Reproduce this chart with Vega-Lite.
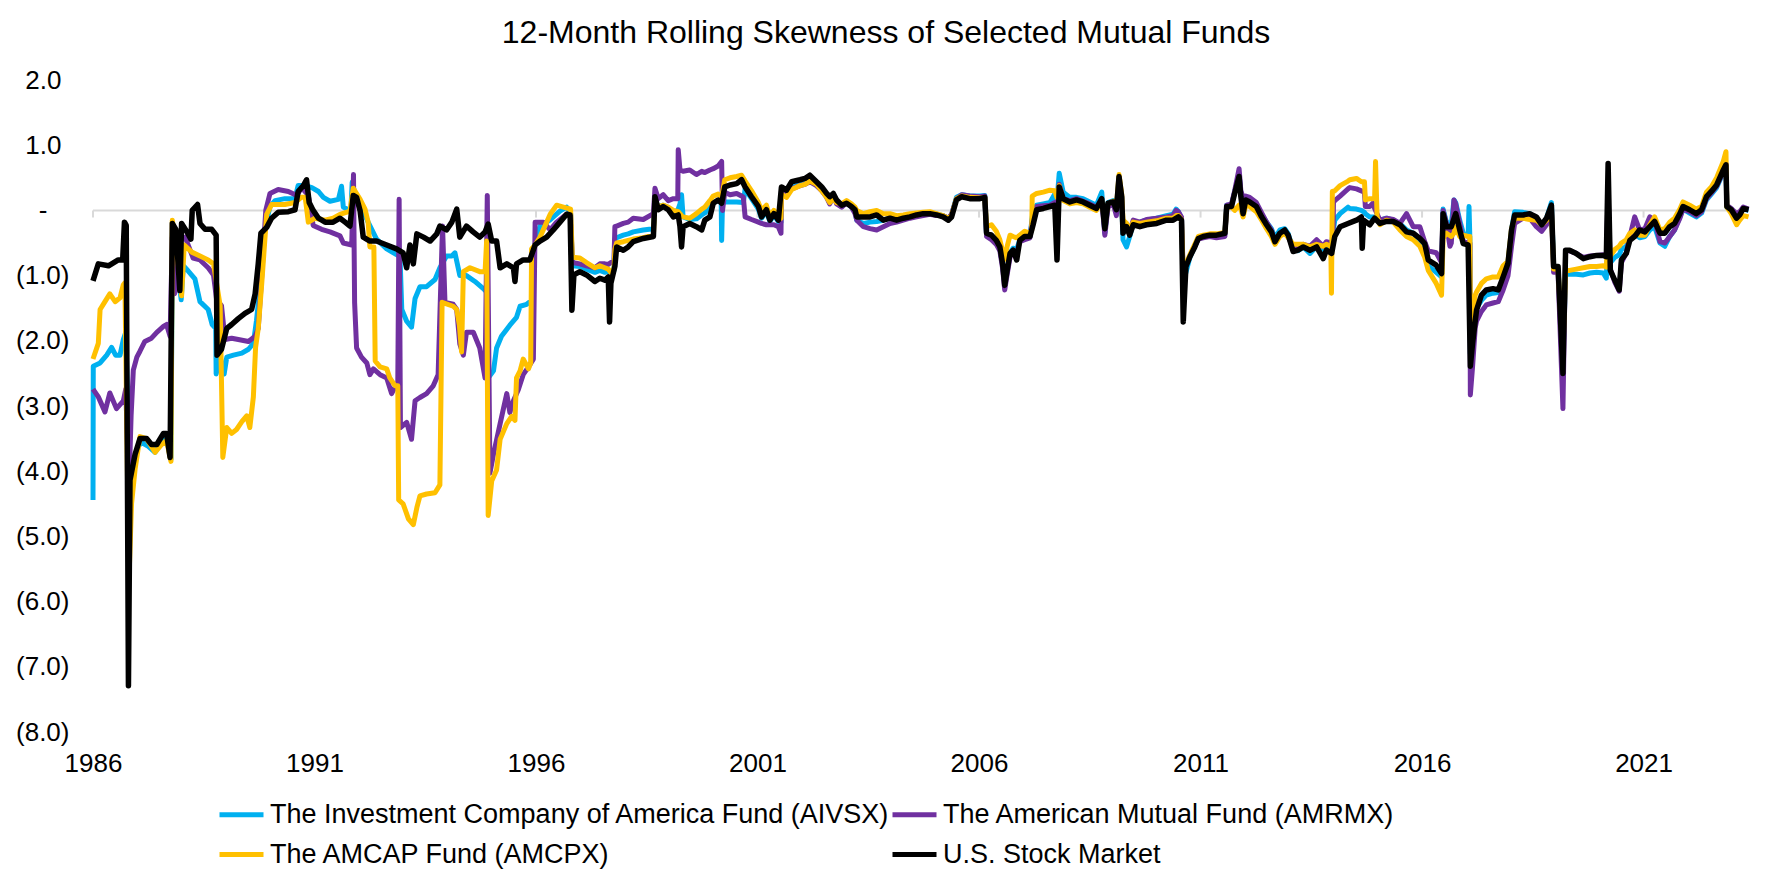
{
"$schema": "https://vega.github.io/schema/vega-lite/v6.json",
"width": 1656, "height": 652,
"autosize": {"type": "none"},
"padding": {"left": 93, "top": 80, "right": 23, "bottom": 153},
"background": "white",
"config": {"font": "Liberation Sans", "view": {"stroke": null}},
"title": {"text": "12-Month Rolling Skewness of Selected Mutual Funds", "font": "Liberation Sans", "fontSize": 32, "fontWeight": "normal", "color": "#000000", "anchor": "middle", "dx": -35, "dy": 3, "offset": 20},
"data": {"values": [
{"f":"A","t":1986,"v":-4.44},{"f":"A","t":1986.006,"v":-2.39},{"f":"A","t":1986.16,"v":-2.34},{"f":"A","t":1986.31,"v":-2.22},{"f":"A","t":1986.42,"v":-2.1},{"f":"A","t":1986.51,"v":-2.22},{"f":"A","t":1986.61,"v":-2.22},{"f":"A","t":1986.685,"v":-1.98},{"f":"A","t":1986.74,"v":-1.87},{"f":"A","t":1986.84,"v":-4.45},{"f":"A","t":1986.87,"v":-4.38},{"f":"A","t":1986.95,"v":-3.85},{"f":"A","t":1987.02,"v":-3.62},{"f":"A","t":1987.1,"v":-3.56},{"f":"A","t":1987.25,"v":-3.62},{"f":"A","t":1987.4,"v":-3.71},{"f":"A","t":1987.55,"v":-3.56},{"f":"A","t":1987.66,"v":-3.5},{"f":"A","t":1987.76,"v":-3.82},{"f":"A","t":1987.79,"v":-0.61},{"f":"A","t":1987.87,"v":-0.61},{"f":"A","t":1987.99,"v":-1.37},{"f":"A","t":1988.04,"v":-0.85},{"f":"A","t":1988.15,"v":-0.93},{"f":"A","t":1988.3,"v":-1.05},{"f":"A","t":1988.415,"v":-1.4},{"f":"A","t":1988.6,"v":-1.52},{"f":"A","t":1988.69,"v":-1.75},{"f":"A","t":1988.77,"v":-1.81},{"f":"A","t":1988.78,"v":-2.51},{"f":"A","t":1988.87,"v":-2.25},{"f":"A","t":1988.96,"v":-2.51},{"f":"A","t":1989.02,"v":-2.25},{"f":"A","t":1989.17,"v":-2.22},{"f":"A","t":1989.36,"v":-2.19},{"f":"A","t":1989.51,"v":-2.13},{"f":"A","t":1989.62,"v":-2.04},{"f":"A","t":1989.69,"v":-1.69},{"f":"A","t":1989.79,"v":-1.05},{"f":"A","t":1989.88,"v":-0.29},{"f":"A","t":1989.995,"v":0.06},{"f":"A","t":1990.11,"v":0.15},{"f":"A","t":1990.33,"v":0.18},{"f":"A","t":1990.56,"v":0.18},{"f":"A","t":1990.63,"v":0.38},{"f":"A","t":1990.79,"v":0.38},{"f":"A","t":1990.94,"v":0.35},{"f":"A","t":1991.09,"v":0.29},{"f":"A","t":1991.2,"v":0.2},{"f":"A","t":1991.35,"v":0.14},{"f":"A","t":1991.54,"v":0.17},{"f":"A","t":1991.61,"v":0.37},{"f":"A","t":1991.65,"v":0.05},{"f":"A","t":1991.82,"v":-0.01},{"f":"A","t":1991.85,"v":0.43},{"f":"A","t":1991.91,"v":0.26},{"f":"A","t":1992.06,"v":0.05},{"f":"A","t":1992.21,"v":-0.18},{"f":"A","t":1992.4,"v":-0.44},{"f":"A","t":1992.63,"v":-0.59},{"f":"A","t":1992.93,"v":-0.71},{"f":"A","t":1992.97,"v":-1.52},{"f":"A","t":1993.08,"v":-1.7},{"f":"A","t":1993.19,"v":-1.79},{"f":"A","t":1993.27,"v":-1.35},{"f":"A","t":1993.38,"v":-1.17},{"f":"A","t":1993.53,"v":-1.17},{"f":"A","t":1993.72,"v":-1.06},{"f":"A","t":1993.83,"v":-0.88},{"f":"A","t":1993.98,"v":-0.7},{"f":"A","t":1994.1,"v":-0.7},{"f":"A","t":1994.17,"v":-0.65},{"f":"A","t":1994.28,"v":-1.0},{"f":"A","t":1994.43,"v":-1.0},{"f":"A","t":1994.62,"v":-1.09},{"f":"A","t":1994.81,"v":-1.2},{"f":"A","t":1994.88,"v":-1.25},{"f":"A","t":1994.92,"v":-2.57},{"f":"A","t":1995.04,"v":-2.46},{"f":"A","t":1995.11,"v":-2.11},{"f":"A","t":1995.22,"v":-1.93},{"f":"A","t":1995.41,"v":-1.76},{"f":"A","t":1995.56,"v":-1.64},{"f":"A","t":1995.64,"v":-1.47},{"f":"A","t":1995.79,"v":-1.44},{"f":"A","t":1995.9,"v":-1.38},{"f":"A","t":1995.95,"v":-0.59},{"f":"A","t":1996.09,"v":-0.24},{"f":"A","t":1996.31,"v":-0.15},{"f":"A","t":1996.54,"v":-0.01},{"f":"A","t":1996.69,"v":0.05},{"f":"A","t":1996.78,"v":-0.04},{"f":"A","t":1996.82,"v":-0.85},{"f":"A","t":1996.99,"v":-0.86},{"f":"A","t":1997.14,"v":-0.9},{"f":"A","t":1997.33,"v":-0.95},{"f":"A","t":1997.44,"v":-0.92},{"f":"A","t":1997.555,"v":-0.95},{"f":"A","t":1997.63,"v":-0.93},{"f":"A","t":1997.69,"v":-0.95},{"f":"A","t":1997.76,"v":-0.92},{"f":"A","t":1997.78,"v":-0.45},{"f":"A","t":1997.82,"v":-0.42},{"f":"A","t":1997.97,"v":-0.38},{"f":"A","t":1998.08,"v":-0.36},{"f":"A","t":1998.195,"v":-0.33},{"f":"A","t":1998.42,"v":-0.3},{"f":"A","t":1998.65,"v":-0.28},{"f":"A","t":1998.685,"v":0.12},{"f":"A","t":1998.76,"v":0.06},{"f":"A","t":1998.87,"v":0.08},{"f":"A","t":1998.985,"v":0.04},{"f":"A","t":1999.1,"v":-0.02},{"f":"A","t":1999.2,"v":0},{"f":"A","t":1999.25,"v":0.1},{"f":"A","t":1999.285,"v":0.24},{"f":"A","t":1999.32,"v":-0.1},{"f":"A","t":1999.47,"v":-0.14},{"f":"A","t":1999.62,"v":-0.13},{"f":"A","t":1999.74,"v":-0.07},{"f":"A","t":1999.81,"v":-0.04},{"f":"A","t":1999.925,"v":0.05},{"f":"A","t":2000,"v":0.12},{"f":"A","t":2000.11,"v":0.15},{"f":"A","t":2000.18,"v":0.12},{"f":"A","t":2000.19,"v":-0.46},{"f":"A","t":2000.21,"v":0.13},{"f":"A","t":2000.38,"v":0.13},{"f":"A","t":2000.53,"v":0.13},{"f":"A","t":2000.68,"v":0.12},{"f":"A","t":2000.72,"v":0.33},{"f":"A","t":2000.865,"v":0.18},{"f":"A","t":2001.02,"v":0.02},{"f":"A","t":2001.09,"v":-0.12},{"f":"A","t":2001.2,"v":-0.02},{"f":"A","t":2001.28,"v":-0.17},{"f":"A","t":2001.37,"v":-0.07},{"f":"A","t":2001.47,"v":-0.17},{"f":"A","t":2001.53,"v":-0.18},{"f":"A","t":2001.54,"v":0.28},{"f":"A","t":2001.655,"v":0.25},{"f":"A","t":2001.77,"v":0.35},{"f":"A","t":2001.96,"v":0.4},{"f":"A","t":2002.07,"v":0.42},{"f":"A","t":2002.18,"v":0.46},{"f":"A","t":2002.33,"v":0.4},{"f":"A","t":2002.45,"v":0.32},{"f":"A","t":2002.56,"v":0.22},{"f":"A","t":2002.63,"v":0.12},{"f":"A","t":2002.71,"v":0.2},{"f":"A","t":2002.785,"v":0.12},{"f":"A","t":2002.9,"v":0.06},{"f":"A","t":2003.01,"v":0.12},{"f":"A","t":2003.12,"v":0.05},{"f":"A","t":2003.2,"v":-0.02},{"f":"A","t":2003.24,"v":-0.15},{"f":"A","t":2003.39,"v":-0.2},{"f":"A","t":2003.54,"v":-0.18},{"f":"A","t":2003.69,"v":-0.17},{"f":"A","t":2003.84,"v":-0.15},{"f":"A","t":2003.99,"v":-0.12},{"f":"A","t":2004.14,"v":-0.12},{"f":"A","t":2004.29,"v":-0.1},{"f":"A","t":2004.44,"v":-0.08},{"f":"A","t":2004.59,"v":-0.06},{"f":"A","t":2004.74,"v":-0.05},{"f":"A","t":2004.89,"v":-0.04},{"f":"A","t":2005.04,"v":-0.06},{"f":"A","t":2005.19,"v":-0.08},{"f":"A","t":2005.305,"v":-0.12},{"f":"A","t":2005.38,"v":-0.07},{"f":"A","t":2005.49,"v":0.2},{"f":"A","t":2005.61,"v":0.24},{"f":"A","t":2005.79,"v":0.22},{"f":"A","t":2006.02,"v":0.22},{"f":"A","t":2006.13,"v":0.23},{"f":"A","t":2006.17,"v":-0.38},{"f":"A","t":2006.28,"v":-0.4},{"f":"A","t":2006.39,"v":-0.48},{"f":"A","t":2006.47,"v":-0.58},{"f":"A","t":2006.53,"v":-0.82},{"f":"A","t":2006.58,"v":-1.12},{"f":"A","t":2006.635,"v":-0.9},{"f":"A","t":2006.7,"v":-0.65},{"f":"A","t":2006.77,"v":-0.58},{"f":"A","t":2006.85,"v":-0.6},{"f":"A","t":2006.92,"v":-0.45},{"f":"A","t":2007.03,"v":-0.42},{"f":"A","t":2007.15,"v":-0.4},{"f":"A","t":2007.22,"v":0},{"f":"A","t":2007.3,"v":0.08},{"f":"A","t":2007.45,"v":0.1},{"f":"A","t":2007.6,"v":0.12},{"f":"A","t":2007.71,"v":0.25},{"f":"A","t":2007.76,"v":0.15},{"f":"A","t":2007.81,"v":0.57},{"f":"A","t":2007.9,"v":0.28},{"f":"A","t":2008.05,"v":0.2},{"f":"A","t":2008.2,"v":0.2},{"f":"A","t":2008.35,"v":0.18},{"f":"A","t":2008.5,"v":0.13},{"f":"A","t":2008.65,"v":0.08},{"f":"A","t":2008.77,"v":0.28},{"f":"A","t":2008.84,"v":-0.35},{"f":"A","t":2008.91,"v":0.12},{"f":"A","t":2009.03,"v":0.15},{"f":"A","t":2009.1,"v":0.02},{"f":"A","t":2009.16,"v":0.5},{"f":"A","t":2009.22,"v":0.2},{"f":"A","t":2009.25,"v":-0.45},{"f":"A","t":2009.33,"v":-0.56},{"f":"A","t":2009.4,"v":-0.4},{"f":"A","t":2009.48,"v":-0.2},{"f":"A","t":2009.63,"v":-0.18},{"f":"A","t":2009.78,"v":-0.15},{"f":"A","t":2010.01,"v":-0.12},{"f":"A","t":2010.23,"v":-0.08},{"f":"A","t":2010.38,"v":-0.06},{"f":"A","t":2010.45,"v":0.02},{"f":"A","t":2010.5,"v":-0.02},{"f":"A","t":2010.57,"v":-0.12},{"f":"A","t":2010.61,"v":-1.1},{"f":"A","t":2010.67,"v":-0.95},{"f":"A","t":2010.76,"v":-0.72},{"f":"A","t":2010.87,"v":-0.55},{"f":"A","t":2010.95,"v":-0.42},{"f":"A","t":2011.06,"v":-0.4},{"f":"A","t":2011.21,"v":-0.38},{"f":"A","t":2011.36,"v":-0.38},{"f":"A","t":2011.55,"v":-0.36},{"f":"A","t":2011.59,"v":0.08},{"f":"A","t":2011.7,"v":0.08},{"f":"A","t":2011.77,"v":0.28},{"f":"A","t":2011.87,"v":0.55},{"f":"A","t":2011.91,"v":0.25},{"f":"A","t":2011.96,"v":0.15},{"f":"A","t":2012.02,"v":0.2},{"f":"A","t":2012.11,"v":0.18},{"f":"A","t":2012.26,"v":0.1},{"f":"A","t":2012.38,"v":-0.06},{"f":"A","t":2012.49,"v":-0.18},{"f":"A","t":2012.6,"v":-0.28},{"f":"A","t":2012.68,"v":-0.42},{"f":"A","t":2012.79,"v":-0.3},{"f":"A","t":2012.9,"v":-0.28},{"f":"A","t":2012.98,"v":-0.36},{"f":"A","t":2013.09,"v":-0.6},{"f":"A","t":2013.2,"v":-0.62},{"f":"A","t":2013.32,"v":-0.56},{"f":"A","t":2013.47,"v":-0.66},{"f":"A","t":2013.62,"v":-0.55},{"f":"A","t":2013.77,"v":-0.6},{"f":"A","t":2013.84,"v":-0.58},{"f":"A","t":2013.94,"v":-0.6},{"f":"A","t":2014.03,"v":-0.15},{"f":"A","t":2014.15,"v":-0.05},{"f":"A","t":2014.33,"v":0.05},{"f":"A","t":2014.37,"v":0.03},{"f":"A","t":2014.52,"v":0.02},{"f":"A","t":2014.63,"v":0},{"f":"A","t":2014.7,"v":-0.03},{"f":"A","t":2014.72,"v":-0.05},{"f":"A","t":2014.82,"v":-0.1},{"f":"A","t":2014.93,"v":-0.1},{"f":"A","t":2015.05,"v":-0.15},{"f":"A","t":2015.2,"v":-0.12},{"f":"A","t":2015.35,"v":-0.15},{"f":"A","t":2015.5,"v":-0.2},{"f":"A","t":2015.65,"v":-0.3},{"f":"A","t":2015.8,"v":-0.35},{"f":"A","t":2015.95,"v":-0.45},{"f":"A","t":2016.06,"v":-0.6},{"f":"A","t":2016.14,"v":-0.85},{"f":"A","t":2016.32,"v":-0.95},{"f":"A","t":2016.44,"v":-1.02},{"f":"A","t":2016.475,"v":0.02},{"f":"A","t":2016.55,"v":-0.18},{"f":"A","t":2016.63,"v":-0.2},{"f":"A","t":2016.66,"v":-0.22},{"f":"A","t":2016.72,"v":0.16},{"f":"A","t":2016.76,"v":0.12},{"f":"A","t":2016.85,"v":-0.15},{"f":"A","t":2016.93,"v":-0.35},{"f":"A","t":2017.04,"v":-0.4},{"f":"A","t":2017.06,"v":0.06},{"f":"A","t":2017.08,"v":-0.45},{"f":"A","t":2017.09,"v":-2.2},{"f":"A","t":2017.14,"v":-2.0},{"f":"A","t":2017.2,"v":-1.55},{"f":"A","t":2017.23,"v":-1.5},{"f":"A","t":2017.34,"v":-1.38},{"f":"A","t":2017.45,"v":-1.3},{"f":"A","t":2017.6,"v":-1.27},{"f":"A","t":2017.72,"v":-1.26},{"f":"A","t":2017.83,"v":-1.05},{"f":"A","t":2017.94,"v":-0.82},{"f":"A","t":2018.02,"v":-0.3},{"f":"A","t":2018.09,"v":-0.02},{"f":"A","t":2018.28,"v":-0.03},{"f":"A","t":2018.43,"v":-0.05},{"f":"A","t":2018.58,"v":-0.12},{"f":"A","t":2018.7,"v":-0.25},{"f":"A","t":2018.81,"v":-0.12},{"f":"A","t":2018.92,"v":0.12},{"f":"A","t":2018.97,"v":-0.85},{"f":"A","t":2019.07,"v":-0.9},{"f":"A","t":2019.18,"v":-2.3},{"f":"A","t":2019.24,"v":-0.97},{"f":"A","t":2019.33,"v":-0.98},{"f":"A","t":2019.48,"v":-0.98},{"f":"A","t":2019.64,"v":-0.99},{"f":"A","t":2019.79,"v":-0.96},{"f":"A","t":2019.94,"v":-0.95},{"f":"A","t":2020.09,"v":-0.96},{"f":"A","t":2020.16,"v":-1.04},{"f":"A","t":2020.2,"v":-0.4},{"f":"A","t":2020.25,"v":-0.8},{"f":"A","t":2020.35,"v":-0.72},{"f":"A","t":2020.45,"v":-0.68},{"f":"A","t":2020.5,"v":-0.6},{"f":"A","t":2020.61,"v":-0.55},{"f":"A","t":2020.69,"v":-0.4},{"f":"A","t":2020.8,"v":-0.35},{"f":"A","t":2020.91,"v":-0.42},{"f":"A","t":2021.03,"v":-0.4},{"f":"A","t":2021.14,"v":-0.3},{"f":"A","t":2021.25,"v":-0.25},{"f":"A","t":2021.37,"v":-0.5},{"f":"A","t":2021.48,"v":-0.55},{"f":"A","t":2021.59,"v":-0.4},{"f":"A","t":2021.7,"v":-0.3},{"f":"A","t":2021.82,"v":-0.1},{"f":"A","t":2021.89,"v":0.02},{"f":"A","t":2022.04,"v":-0.04},{"f":"A","t":2022.19,"v":-0.1},{"f":"A","t":2022.31,"v":-0.04},{"f":"A","t":2022.42,"v":0.16},{"f":"A","t":2022.53,"v":0.25},{"f":"A","t":2022.65,"v":0.35},{"f":"A","t":2022.8,"v":0.58},{"f":"A","t":2022.86,"v":0.68},{"f":"A","t":2022.88,"v":0.05},{"f":"A","t":2022.98,"v":0.02},{"f":"A","t":2023.1,"v":-0.1},{"f":"A","t":2023.17,"v":-0.05},{"f":"A","t":2023.25,"v":0.02},{"f":"A","t":2023.37,"v":0},
{"f":"R","t":1986,"v":-2.74},{"f":"R","t":1986.12,"v":-2.86},{"f":"R","t":1986.27,"v":-3.09},{"f":"R","t":1986.38,"v":-2.8},{"f":"R","t":1986.53,"v":-3.04},{"f":"R","t":1986.685,"v":-2.92},{"f":"R","t":1986.74,"v":-2.74},{"f":"R","t":1986.81,"v":-4.3},{"f":"R","t":1986.86,"v":-3.15},{"f":"R","t":1986.91,"v":-2.45},{"f":"R","t":1986.99,"v":-2.25},{"f":"R","t":1987.06,"v":-2.16},{"f":"R","t":1987.17,"v":-2.01},{"f":"R","t":1987.32,"v":-1.96},{"f":"R","t":1987.44,"v":-1.87},{"f":"R","t":1987.59,"v":-1.78},{"f":"R","t":1987.66,"v":-1.75},{"f":"R","t":1987.74,"v":-1.93},{"f":"R","t":1987.79,"v":-0.41},{"f":"R","t":1987.84,"v":-1.28},{"f":"R","t":1987.89,"v":-1.17},{"f":"R","t":1987.96,"v":-0.47},{"f":"R","t":1988.08,"v":-0.41},{"f":"R","t":1988.26,"v":-0.73},{"f":"R","t":1988.415,"v":-0.76},{"f":"R","t":1988.6,"v":-0.88},{"f":"R","t":1988.72,"v":-0.99},{"f":"R","t":1988.79,"v":-1.37},{"f":"R","t":1988.9,"v":-1.46},{"f":"R","t":1988.98,"v":-1.98},{"f":"R","t":1989.13,"v":-1.96},{"f":"R","t":1989.28,"v":-1.98},{"f":"R","t":1989.51,"v":-2.01},{"f":"R","t":1989.66,"v":-1.93},{"f":"R","t":1989.73,"v":-1.81},{"f":"R","t":1989.81,"v":-0.99},{"f":"R","t":1989.9,"v":0},{"f":"R","t":1989.995,"v":0.26},{"f":"R","t":1990.18,"v":0.32},{"f":"R","t":1990.41,"v":0.29},{"f":"R","t":1990.6,"v":0.23},{"f":"R","t":1990.71,"v":0.35},{"f":"R","t":1990.86,"v":0.23},{"f":"R","t":1990.97,"v":-0.23},{"f":"R","t":1991.16,"v":-0.29},{"f":"R","t":1991.35,"v":-0.33},{"f":"R","t":1991.575,"v":-0.39},{"f":"R","t":1991.65,"v":-0.5},{"f":"R","t":1991.84,"v":-0.53},{"f":"R","t":1991.88,"v":0.55},{"f":"R","t":1991.905,"v":-1.41},{"f":"R","t":1991.95,"v":-2.11},{"f":"R","t":1992.06,"v":-2.25},{"f":"R","t":1992.18,"v":-2.34},{"f":"R","t":1992.25,"v":-2.52},{"f":"R","t":1992.33,"v":-2.43},{"f":"R","t":1992.48,"v":-2.52},{"f":"R","t":1992.63,"v":-2.57},{"f":"R","t":1992.74,"v":-2.81},{"f":"R","t":1992.88,"v":-2.63},{"f":"R","t":1992.91,"v":0.17},{"f":"R","t":1992.94,"v":-3.33},{"f":"R","t":1993.08,"v":-3.25},{"f":"R","t":1993.19,"v":-3.51},{"f":"R","t":1993.27,"v":-2.92},{"f":"R","t":1993.38,"v":-2.87},{"f":"R","t":1993.53,"v":-2.81},{"f":"R","t":1993.68,"v":-2.69},{"f":"R","t":1993.79,"v":-2.52},{"f":"R","t":1993.89,"v":-0.24},{"f":"R","t":1993.945,"v":-1.41},{"f":"R","t":1994.13,"v":-1.44},{"f":"R","t":1994.21,"v":-1.52},{"f":"R","t":1994.28,"v":-2.05},{"f":"R","t":1994.36,"v":-2.22},{"f":"R","t":1994.43,"v":-1.87},{"f":"R","t":1994.585,"v":-1.87},{"f":"R","t":1994.73,"v":-2.11},{"f":"R","t":1994.85,"v":-2.57},{"f":"R","t":1994.9,"v":0.23},{"f":"R","t":1994.96,"v":-4.03},{"f":"R","t":1995.04,"v":-3.74},{"f":"R","t":1995.19,"v":-3.27},{"f":"R","t":1995.34,"v":-2.81},{"f":"R","t":1995.41,"v":-3.1},{"f":"R","t":1995.49,"v":-2.92},{"f":"R","t":1995.6,"v":-2.75},{"f":"R","t":1995.71,"v":-2.52},{"f":"R","t":1995.83,"v":-2.4},{"f":"R","t":1995.94,"v":-2.28},{"f":"R","t":1995.98,"v":-0.18},{"f":"R","t":1996.165,"v":-0.18},{"f":"R","t":1996.32,"v":-0.3},{"f":"R","t":1996.465,"v":-0.18},{"f":"R","t":1996.69,"v":-0.06},{"f":"R","t":1996.78,"v":-0.06},{"f":"R","t":1996.82,"v":-0.8},{"f":"R","t":1996.99,"v":-0.82},{"f":"R","t":1997.14,"v":-0.85},{"f":"R","t":1997.33,"v":-0.88},{"f":"R","t":1997.44,"v":-0.82},{"f":"R","t":1997.555,"v":-0.82},{"f":"R","t":1997.63,"v":-0.83},{"f":"R","t":1997.69,"v":-0.8},{"f":"R","t":1997.76,"v":-0.78},{"f":"R","t":1997.78,"v":-0.25},{"f":"R","t":1997.82,"v":-0.24},{"f":"R","t":1997.97,"v":-0.2},{"f":"R","t":1998.08,"v":-0.18},{"f":"R","t":1998.195,"v":-0.12},{"f":"R","t":1998.42,"v":-0.14},{"f":"R","t":1998.65,"v":-0.05},{"f":"R","t":1998.685,"v":0.34},{"f":"R","t":1998.76,"v":0.18},{"f":"R","t":1998.87,"v":0.24},{"f":"R","t":1998.985,"v":0.15},{"f":"R","t":1999.1,"v":0.18},{"f":"R","t":1999.2,"v":0.18},{"f":"R","t":1999.21,"v":0.93},{"f":"R","t":1999.25,"v":0.62},{"f":"R","t":1999.32,"v":0.6},{"f":"R","t":1999.47,"v":0.62},{"f":"R","t":1999.62,"v":0.55},{"f":"R","t":1999.74,"v":0.6},{"f":"R","t":1999.81,"v":0.58},{"f":"R","t":1999.925,"v":0.62},{"f":"R","t":2000,"v":0.64},{"f":"R","t":2000.11,"v":0.68},{"f":"R","t":2000.19,"v":0.75},{"f":"R","t":2000.21,"v":0},{"f":"R","t":2000.26,"v":0.28},{"f":"R","t":2000.38,"v":0.24},{"f":"R","t":2000.53,"v":0.26},{"f":"R","t":2000.64,"v":0.22},{"f":"R","t":2000.68,"v":0.2},{"f":"R","t":2000.72,"v":-0.1},{"f":"R","t":2000.865,"v":-0.14},{"f":"R","t":2001.02,"v":-0.18},{"f":"R","t":2001.09,"v":-0.2},{"f":"R","t":2001.2,"v":-0.22},{"f":"R","t":2001.28,"v":-0.22},{"f":"R","t":2001.37,"v":-0.22},{"f":"R","t":2001.47,"v":-0.25},{"f":"R","t":2001.53,"v":-0.35},{"f":"R","t":2001.54,"v":0.3},{"f":"R","t":2001.655,"v":0.25},{"f":"R","t":2001.77,"v":0.33},{"f":"R","t":2001.96,"v":0.38},{"f":"R","t":2002.07,"v":0.4},{"f":"R","t":2002.18,"v":0.44},{"f":"R","t":2002.33,"v":0.38},{"f":"R","t":2002.45,"v":0.3},{"f":"R","t":2002.56,"v":0.2},{"f":"R","t":2002.63,"v":0.1},{"f":"R","t":2002.71,"v":0.24},{"f":"R","t":2002.785,"v":0.1},{"f":"R","t":2002.9,"v":0.05},{"f":"R","t":2003.01,"v":0.12},{"f":"R","t":2003.12,"v":0.05},{"f":"R","t":2003.2,"v":-0.05},{"f":"R","t":2003.24,"v":-0.15},{"f":"R","t":2003.39,"v":-0.25},{"f":"R","t":2003.54,"v":-0.28},{"f":"R","t":2003.69,"v":-0.3},{"f":"R","t":2003.84,"v":-0.25},{"f":"R","t":2003.99,"v":-0.2},{"f":"R","t":2004.14,"v":-0.18},{"f":"R","t":2004.29,"v":-0.15},{"f":"R","t":2004.44,"v":-0.12},{"f":"R","t":2004.59,"v":-0.1},{"f":"R","t":2004.74,"v":-0.08},{"f":"R","t":2004.89,"v":-0.06},{"f":"R","t":2005.04,"v":-0.08},{"f":"R","t":2005.19,"v":-0.08},{"f":"R","t":2005.305,"v":-0.12},{"f":"R","t":2005.38,"v":-0.06},{"f":"R","t":2005.49,"v":0.18},{"f":"R","t":2005.61,"v":0.24},{"f":"R","t":2005.79,"v":0.22},{"f":"R","t":2006.02,"v":0.21},{"f":"R","t":2006.13,"v":0.22},{"f":"R","t":2006.17,"v":-0.4},{"f":"R","t":2006.28,"v":-0.45},{"f":"R","t":2006.39,"v":-0.52},{"f":"R","t":2006.47,"v":-0.62},{"f":"R","t":2006.53,"v":-0.88},{"f":"R","t":2006.58,"v":-1.22},{"f":"R","t":2006.635,"v":-0.98},{"f":"R","t":2006.7,"v":-0.72},{"f":"R","t":2006.77,"v":-0.62},{"f":"R","t":2006.85,"v":-0.65},{"f":"R","t":2006.92,"v":-0.48},{"f":"R","t":2007.03,"v":-0.45},{"f":"R","t":2007.15,"v":-0.42},{"f":"R","t":2007.22,"v":-0.05},{"f":"R","t":2007.3,"v":0.06},{"f":"R","t":2007.45,"v":0.07},{"f":"R","t":2007.6,"v":0.08},{"f":"R","t":2007.71,"v":0.12},{"f":"R","t":2007.76,"v":0.05},{"f":"R","t":2007.81,"v":0.4},{"f":"R","t":2007.9,"v":0.18},{"f":"R","t":2008.05,"v":0.15},{"f":"R","t":2008.2,"v":0.18},{"f":"R","t":2008.35,"v":0.14},{"f":"R","t":2008.5,"v":0.1},{"f":"R","t":2008.65,"v":0.05},{"f":"R","t":2008.77,"v":0.16},{"f":"R","t":2008.84,"v":-0.38},{"f":"R","t":2008.91,"v":0.05},{"f":"R","t":2009.03,"v":0.1},{"f":"R","t":2009.1,"v":-0.08},{"f":"R","t":2009.16,"v":0.48},{"f":"R","t":2009.22,"v":0.2},{"f":"R","t":2009.25,"v":-0.3},{"f":"R","t":2009.33,"v":-0.22},{"f":"R","t":2009.4,"v":-0.32},{"f":"R","t":2009.48,"v":-0.15},{"f":"R","t":2009.63,"v":-0.18},{"f":"R","t":2009.78,"v":-0.14},{"f":"R","t":2010.01,"v":-0.12},{"f":"R","t":2010.23,"v":-0.1},{"f":"R","t":2010.38,"v":-0.08},{"f":"R","t":2010.45,"v":0},{"f":"R","t":2010.5,"v":-0.02},{"f":"R","t":2010.57,"v":-0.1},{"f":"R","t":2010.61,"v":-1.0},{"f":"R","t":2010.67,"v":-0.85},{"f":"R","t":2010.76,"v":-0.7},{"f":"R","t":2010.87,"v":-0.55},{"f":"R","t":2010.95,"v":-0.44},{"f":"R","t":2011.06,"v":-0.42},{"f":"R","t":2011.21,"v":-0.4},{"f":"R","t":2011.36,"v":-0.42},{"f":"R","t":2011.55,"v":-0.4},{"f":"R","t":2011.59,"v":0.08},{"f":"R","t":2011.7,"v":0.1},{"f":"R","t":2011.77,"v":0.3},{"f":"R","t":2011.87,"v":0.64},{"f":"R","t":2011.91,"v":0.3},{"f":"R","t":2011.96,"v":0.2},{"f":"R","t":2012.02,"v":0.22},{"f":"R","t":2012.11,"v":0.2},{"f":"R","t":2012.26,"v":0.12},{"f":"R","t":2012.38,"v":-0.04},{"f":"R","t":2012.49,"v":-0.18},{"f":"R","t":2012.6,"v":-0.3},{"f":"R","t":2012.68,"v":-0.48},{"f":"R","t":2012.79,"v":-0.38},{"f":"R","t":2012.9,"v":-0.32},{"f":"R","t":2012.98,"v":-0.4},{"f":"R","t":2013.09,"v":-0.58},{"f":"R","t":2013.2,"v":-0.55},{"f":"R","t":2013.32,"v":-0.52},{"f":"R","t":2013.47,"v":-0.55},{"f":"R","t":2013.62,"v":-0.45},{"f":"R","t":2013.77,"v":-0.55},{"f":"R","t":2013.84,"v":-0.48},{"f":"R","t":2013.94,"v":-0.5},{"f":"R","t":2013.99,"v":-0.5},{"f":"R","t":2014.0,"v":0.12},{"f":"R","t":2014.03,"v":0.15},{"f":"R","t":2014.15,"v":0.22},{"f":"R","t":2014.33,"v":0.33},{"f":"R","t":2014.37,"v":0.35},{"f":"R","t":2014.52,"v":0.33},{"f":"R","t":2014.63,"v":0.3},{"f":"R","t":2014.7,"v":0.28},{"f":"R","t":2014.72,"v":0.06},{"f":"R","t":2014.82,"v":0.06},{"f":"R","t":2014.89,"v":0.11},{"f":"R","t":2014.93,"v":0.03},{"f":"R","t":2015.05,"v":-0.15},{"f":"R","t":2015.2,"v":-0.12},{"f":"R","t":2015.35,"v":-0.14},{"f":"R","t":2015.5,"v":-0.2},{"f":"R","t":2015.65,"v":-0.05},{"f":"R","t":2015.8,"v":-0.25},{"f":"R","t":2015.95,"v":-0.25},{"f":"R","t":2016.06,"v":-0.48},{"f":"R","t":2016.14,"v":-0.62},{"f":"R","t":2016.32,"v":-0.65},{"f":"R","t":2016.44,"v":-0.8},{"f":"R","t":2016.475,"v":0},{"f":"R","t":2016.55,"v":-0.2},{"f":"R","t":2016.63,"v":-0.55},{"f":"R","t":2016.66,"v":-0.5},{"f":"R","t":2016.72,"v":0.16},{"f":"R","t":2016.76,"v":0.1},{"f":"R","t":2016.85,"v":-0.2},{"f":"R","t":2016.93,"v":-0.48},{"f":"R","t":2017.04,"v":-0.5},{"f":"R","t":2017.08,"v":-0.5},{"f":"R","t":2017.09,"v":-2.83},{"f":"R","t":2017.14,"v":-2.4},{"f":"R","t":2017.2,"v":-1.8},{"f":"R","t":2017.23,"v":-1.7},{"f":"R","t":2017.34,"v":-1.55},{"f":"R","t":2017.45,"v":-1.45},{"f":"R","t":2017.6,"v":-1.42},{"f":"R","t":2017.72,"v":-1.4},{"f":"R","t":2017.83,"v":-1.22},{"f":"R","t":2017.94,"v":-1.0},{"f":"R","t":2018.02,"v":-0.55},{"f":"R","t":2018.09,"v":-0.2},{"f":"R","t":2018.28,"v":-0.12},{"f":"R","t":2018.43,"v":-0.12},{"f":"R","t":2018.58,"v":-0.25},{"f":"R","t":2018.7,"v":-0.32},{"f":"R","t":2018.81,"v":-0.22},{"f":"R","t":2018.92,"v":0.05},{"f":"R","t":2018.97,"v":-0.95},{"f":"R","t":2019.07,"v":-0.95},{"f":"R","t":2019.18,"v":-3.04},{"f":"R","t":2019.24,"v":-0.62},{"f":"R","t":2019.33,"v":-0.62},{"f":"R","t":2019.48,"v":-0.66},{"f":"R","t":2019.64,"v":-0.72},{"f":"R","t":2019.79,"v":-0.7},{"f":"R","t":2019.94,"v":-0.69},{"f":"R","t":2020.09,"v":-0.68},{"f":"R","t":2020.16,"v":-0.7},{"f":"R","t":2020.2,"v":0.3},{"f":"R","t":2020.25,"v":-0.9},{"f":"R","t":2020.35,"v":-1.1},{"f":"R","t":2020.45,"v":-1.24},{"f":"R","t":2020.5,"v":-0.8},{"f":"R","t":2020.61,"v":-0.65},{"f":"R","t":2020.69,"v":-0.4},{"f":"R","t":2020.8,"v":-0.1},{"f":"R","t":2020.91,"v":-0.3},{"f":"R","t":2021.03,"v":-0.28},{"f":"R","t":2021.14,"v":-0.1},{"f":"R","t":2021.25,"v":-0.15},{"f":"R","t":2021.37,"v":-0.48},{"f":"R","t":2021.48,"v":-0.5},{"f":"R","t":2021.59,"v":-0.4},{"f":"R","t":2021.7,"v":-0.3},{"f":"R","t":2021.82,"v":-0.12},{"f":"R","t":2021.89,"v":0.02},{"f":"R","t":2022.04,"v":-0.02},{"f":"R","t":2022.19,"v":-0.08},{"f":"R","t":2022.31,"v":-0.02},{"f":"R","t":2022.42,"v":0.18},{"f":"R","t":2022.53,"v":0.27},{"f":"R","t":2022.65,"v":0.37},{"f":"R","t":2022.8,"v":0.6},{"f":"R","t":2022.86,"v":0.72},{"f":"R","t":2022.88,"v":0.08},{"f":"R","t":2022.98,"v":0.03},{"f":"R","t":2023.1,"v":-0.05},{"f":"R","t":2023.17,"v":-0.02},{"f":"R","t":2023.25,"v":0.05},{"f":"R","t":2023.37,"v":0.02},
{"f":"C","t":1986,"v":-2.28},{"f":"C","t":1986.12,"v":-2.04},{"f":"C","t":1986.16,"v":-1.52},{"f":"C","t":1986.27,"v":-1.4},{"f":"C","t":1986.38,"v":-1.28},{"f":"C","t":1986.5,"v":-1.4},{"f":"C","t":1986.61,"v":-1.34},{"f":"C","t":1986.685,"v":-1.14},{"f":"C","t":1986.72,"v":-1.11},{"f":"C","t":1986.81,"v":-5.7},{"f":"C","t":1986.87,"v":-4.5},{"f":"C","t":1986.95,"v":-3.97},{"f":"C","t":1987.06,"v":-3.47},{"f":"C","t":1987.21,"v":-3.5},{"f":"C","t":1987.4,"v":-3.71},{"f":"C","t":1987.55,"v":-3.59},{"f":"C","t":1987.66,"v":-3.53},{"f":"C","t":1987.76,"v":-3.85},{"f":"C","t":1987.79,"v":-0.15},{"f":"C","t":1987.89,"v":-0.64},{"f":"C","t":1988,"v":-1.31},{"f":"C","t":1988.06,"v":-0.53},{"f":"C","t":1988.23,"v":-0.64},{"f":"C","t":1988.415,"v":-0.7},{"f":"C","t":1988.6,"v":-0.76},{"f":"C","t":1988.72,"v":-0.82},{"f":"C","t":1988.87,"v":-1.46},{"f":"C","t":1988.93,"v":-3.79},{"f":"C","t":1989.02,"v":-3.33},{"f":"C","t":1989.13,"v":-3.42},{"f":"C","t":1989.24,"v":-3.36},{"f":"C","t":1989.36,"v":-3.24},{"f":"C","t":1989.47,"v":-3.15},{"f":"C","t":1989.54,"v":-3.33},{"f":"C","t":1989.62,"v":-2.86},{"f":"C","t":1989.67,"v":-2.1},{"f":"C","t":1989.73,"v":-1.81},{"f":"C","t":1989.81,"v":-1.11},{"f":"C","t":1989.92,"v":-0.06},{"f":"C","t":1990.03,"v":0.09},{"f":"C","t":1990.33,"v":0.09},{"f":"C","t":1990.56,"v":0.12},{"f":"C","t":1990.7,"v":0.2},{"f":"C","t":1990.79,"v":0.2},{"f":"C","t":1990.86,"v":-0.18},{"f":"C","t":1991.01,"v":-0.12},{"f":"C","t":1991.24,"v":-0.15},{"f":"C","t":1991.42,"v":-0.12},{"f":"C","t":1991.575,"v":-0.06},{"f":"C","t":1991.8,"v":-0.01},{"f":"C","t":1991.875,"v":0.34},{"f":"C","t":1992.03,"v":0.17},{"f":"C","t":1992.14,"v":0.02},{"f":"C","t":1992.21,"v":-0.18},{"f":"C","t":1992.25,"v":-0.56},{"f":"C","t":1992.34,"v":-0.56},{"f":"C","t":1992.37,"v":-2.31},{"f":"C","t":1992.48,"v":-2.4},{"f":"C","t":1992.63,"v":-2.43},{"f":"C","t":1992.7,"v":-2.57},{"f":"C","t":1992.82,"v":-2.69},{"f":"C","t":1992.88,"v":-2.69},{"f":"C","t":1992.9,"v":-4.44},{"f":"C","t":1993,"v":-4.5},{"f":"C","t":1993.12,"v":-4.73},{"f":"C","t":1993.23,"v":-4.82},{"f":"C","t":1993.31,"v":-4.56},{"f":"C","t":1993.38,"v":-4.38},{"f":"C","t":1993.53,"v":-4.35},{"f":"C","t":1993.72,"v":-4.33},{"f":"C","t":1993.83,"v":-4.21},{"f":"C","t":1993.88,"v":-1.41},{"f":"C","t":1994.13,"v":-1.47},{"f":"C","t":1994.21,"v":-1.52},{"f":"C","t":1994.27,"v":-1.76},{"f":"C","t":1994.32,"v":-2.17},{"f":"C","t":1994.36,"v":-0.94},{"f":"C","t":1994.51,"v":-0.88},{"f":"C","t":1994.73,"v":-0.94},{"f":"C","t":1994.85,"v":-0.94},{"f":"C","t":1994.885,"v":-0.47},{"f":"C","t":1994.92,"v":-4.68},{"f":"C","t":1995,"v":-4.15},{"f":"C","t":1995.11,"v":-3.98},{"f":"C","t":1995.19,"v":-3.51},{"f":"C","t":1995.34,"v":-3.27},{"f":"C","t":1995.45,"v":-3.16},{"f":"C","t":1995.525,"v":-3.22},{"f":"C","t":1995.56,"v":-2.57},{"f":"C","t":1995.64,"v":-2.46},{"f":"C","t":1995.71,"v":-2.28},{"f":"C","t":1995.83,"v":-2.43},{"f":"C","t":1995.88,"v":-2.34},{"f":"C","t":1995.9,"v":-0.59},{"f":"C","t":1995.98,"v":-0.53},{"f":"C","t":1996.09,"v":-0.41},{"f":"C","t":1996.32,"v":-0.06},{"f":"C","t":1996.465,"v":0.08},{"f":"C","t":1996.62,"v":0.05},{"f":"C","t":1996.78,"v":0.02},{"f":"C","t":1996.82,"v":-0.72},{"f":"C","t":1996.99,"v":-0.73},{"f":"C","t":1997.14,"v":-0.8},{"f":"C","t":1997.33,"v":-0.88},{"f":"C","t":1997.44,"v":-0.85},{"f":"C","t":1997.555,"v":-0.88},{"f":"C","t":1997.63,"v":-0.9},{"f":"C","t":1997.69,"v":-0.95},{"f":"C","t":1997.76,"v":-0.9},{"f":"C","t":1997.78,"v":-0.6},{"f":"C","t":1997.82,"v":-0.5},{"f":"C","t":1997.97,"v":-0.48},{"f":"C","t":1998.08,"v":-0.46},{"f":"C","t":1998.195,"v":-0.44},{"f":"C","t":1998.42,"v":-0.42},{"f":"C","t":1998.65,"v":-0.38},{"f":"C","t":1998.685,"v":0.15},{"f":"C","t":1998.76,"v":0.05},{"f":"C","t":1998.87,"v":0.08},{"f":"C","t":1998.985,"v":0.05},{"f":"C","t":1999.1,"v":0},{"f":"C","t":1999.21,"v":-0.02},{"f":"C","t":1999.25,"v":-0.05},{"f":"C","t":1999.285,"v":-0.08},{"f":"C","t":1999.32,"v":-0.1},{"f":"C","t":1999.47,"v":-0.12},{"f":"C","t":1999.62,"v":-0.05},{"f":"C","t":1999.74,"v":0.02},{"f":"C","t":1999.81,"v":0.05},{"f":"C","t":1999.925,"v":0.15},{"f":"C","t":2000,"v":0.22},{"f":"C","t":2000.11,"v":0.25},{"f":"C","t":2000.19,"v":0.2},{"f":"C","t":2000.26,"v":0.47},{"f":"C","t":2000.38,"v":0.5},{"f":"C","t":2000.53,"v":0.52},{"f":"C","t":2000.64,"v":0.54},{"f":"C","t":2000.72,"v":0.45},{"f":"C","t":2000.865,"v":0.3},{"f":"C","t":2001.02,"v":0.12},{"f":"C","t":2001.09,"v":0},{"f":"C","t":2001.2,"v":0.08},{"f":"C","t":2001.28,"v":-0.1},{"f":"C","t":2001.37,"v":0},{"f":"C","t":2001.47,"v":-0.1},{"f":"C","t":2001.53,"v":-0.12},{"f":"C","t":2001.54,"v":0.25},{"f":"C","t":2001.655,"v":0.2},{"f":"C","t":2001.77,"v":0.32},{"f":"C","t":2001.96,"v":0.38},{"f":"C","t":2002.07,"v":0.4},{"f":"C","t":2002.18,"v":0.45},{"f":"C","t":2002.33,"v":0.4},{"f":"C","t":2002.45,"v":0.3},{"f":"C","t":2002.56,"v":0.2},{"f":"C","t":2002.63,"v":0.12},{"f":"C","t":2002.71,"v":0.18},{"f":"C","t":2002.785,"v":0.12},{"f":"C","t":2002.9,"v":0.1},{"f":"C","t":2003.01,"v":0.15},{"f":"C","t":2003.12,"v":0.1},{"f":"C","t":2003.2,"v":0.05},{"f":"C","t":2003.24,"v":0},{"f":"C","t":2003.39,"v":-0.05},{"f":"C","t":2003.54,"v":-0.02},{"f":"C","t":2003.69,"v":0},{"f":"C","t":2003.84,"v":-0.05},{"f":"C","t":2003.99,"v":-0.05},{"f":"C","t":2004.14,"v":-0.08},{"f":"C","t":2004.29,"v":-0.07},{"f":"C","t":2004.44,"v":-0.05},{"f":"C","t":2004.59,"v":-0.04},{"f":"C","t":2004.74,"v":-0.03},{"f":"C","t":2004.89,"v":-0.02},{"f":"C","t":2005.04,"v":-0.05},{"f":"C","t":2005.19,"v":-0.08},{"f":"C","t":2005.305,"v":-0.12},{"f":"C","t":2005.38,"v":-0.08},{"f":"C","t":2005.49,"v":0.18},{"f":"C","t":2005.61,"v":0.22},{"f":"C","t":2005.79,"v":0.2},{"f":"C","t":2006.02,"v":0.19},{"f":"C","t":2006.13,"v":0.2},{"f":"C","t":2006.17,"v":-0.25},{"f":"C","t":2006.28,"v":-0.22},{"f":"C","t":2006.39,"v":-0.32},{"f":"C","t":2006.47,"v":-0.45},{"f":"C","t":2006.53,"v":-0.62},{"f":"C","t":2006.58,"v":-0.75},{"f":"C","t":2006.635,"v":-0.55},{"f":"C","t":2006.7,"v":-0.38},{"f":"C","t":2006.77,"v":-0.4},{"f":"C","t":2006.85,"v":-0.42},{"f":"C","t":2006.92,"v":-0.38},{"f":"C","t":2007.03,"v":-0.32},{"f":"C","t":2007.15,"v":-0.35},{"f":"C","t":2007.19,"v":-0.3},{"f":"C","t":2007.2,"v":0.22},{"f":"C","t":2007.3,"v":0.26},{"f":"C","t":2007.45,"v":0.28},{"f":"C","t":2007.6,"v":0.31},{"f":"C","t":2007.71,"v":0.3},{"f":"C","t":2007.76,"v":0.2},{"f":"C","t":2007.81,"v":0.38},{"f":"C","t":2007.9,"v":0.15},{"f":"C","t":2008.05,"v":0.1},{"f":"C","t":2008.2,"v":0.12},{"f":"C","t":2008.35,"v":0.1},{"f":"C","t":2008.5,"v":0.05},{"f":"C","t":2008.65,"v":0},{"f":"C","t":2008.77,"v":0.15},{"f":"C","t":2008.84,"v":-0.2},{"f":"C","t":2008.91,"v":0.1},{"f":"C","t":2009.03,"v":0.14},{"f":"C","t":2009.1,"v":0.05},{"f":"C","t":2009.16,"v":0.55},{"f":"C","t":2009.22,"v":0.25},{"f":"C","t":2009.25,"v":-0.15},{"f":"C","t":2009.33,"v":-0.2},{"f":"C","t":2009.4,"v":-0.3},{"f":"C","t":2009.48,"v":-0.18},{"f":"C","t":2009.63,"v":-0.2},{"f":"C","t":2009.78,"v":-0.18},{"f":"C","t":2010.01,"v":-0.16},{"f":"C","t":2010.23,"v":-0.12},{"f":"C","t":2010.38,"v":-0.12},{"f":"C","t":2010.45,"v":-0.08},{"f":"C","t":2010.5,"v":-0.08},{"f":"C","t":2010.57,"v":-0.14},{"f":"C","t":2010.61,"v":-1.0},{"f":"C","t":2010.67,"v":-0.82},{"f":"C","t":2010.76,"v":-0.68},{"f":"C","t":2010.87,"v":-0.52},{"f":"C","t":2010.95,"v":-0.4},{"f":"C","t":2011.06,"v":-0.38},{"f":"C","t":2011.21,"v":-0.36},{"f":"C","t":2011.36,"v":-0.36},{"f":"C","t":2011.55,"v":-0.34},{"f":"C","t":2011.59,"v":0.05},{"f":"C","t":2011.7,"v":0.05},{"f":"C","t":2011.77,"v":0},{"f":"C","t":2011.87,"v":0.08},{"f":"C","t":2011.91,"v":0.02},{"f":"C","t":2011.96,"v":-0.1},{"f":"C","t":2012.02,"v":0.08},{"f":"C","t":2012.11,"v":0.06},{"f":"C","t":2012.26,"v":-0.02},{"f":"C","t":2012.38,"v":-0.15},{"f":"C","t":2012.49,"v":-0.28},{"f":"C","t":2012.6,"v":-0.4},{"f":"C","t":2012.68,"v":-0.52},{"f":"C","t":2012.79,"v":-0.4},{"f":"C","t":2012.9,"v":-0.35},{"f":"C","t":2012.98,"v":-0.42},{"f":"C","t":2013.09,"v":-0.52},{"f":"C","t":2013.2,"v":-0.52},{"f":"C","t":2013.32,"v":-0.52},{"f":"C","t":2013.47,"v":-0.56},{"f":"C","t":2013.62,"v":-0.52},{"f":"C","t":2013.77,"v":-0.55},{"f":"C","t":2013.84,"v":-0.52},{"f":"C","t":2013.94,"v":-0.55},{"f":"C","t":2013.955,"v":-1.27},{"f":"C","t":2013.975,"v":0.29},{"f":"C","t":2014.03,"v":0.3},{"f":"C","t":2014.15,"v":0.38},{"f":"C","t":2014.33,"v":0.45},{"f":"C","t":2014.37,"v":0.47},{"f":"C","t":2014.52,"v":0.49},{"f":"C","t":2014.63,"v":0.44},{"f":"C","t":2014.7,"v":0.44},{"f":"C","t":2014.72,"v":0.16},{"f":"C","t":2014.82,"v":0.18},{"f":"C","t":2014.89,"v":0.18},{"f":"C","t":2014.93,"v":0.2},{"f":"C","t":2014.95,"v":0.75},{"f":"C","t":2014.985,"v":-0.1},{"f":"C","t":2015.05,"v":-0.22},{"f":"C","t":2015.2,"v":-0.15},{"f":"C","t":2015.35,"v":-0.18},{"f":"C","t":2015.5,"v":-0.3},{"f":"C","t":2015.65,"v":-0.4},{"f":"C","t":2015.8,"v":-0.45},{"f":"C","t":2015.95,"v":-0.55},{"f":"C","t":2016.06,"v":-0.72},{"f":"C","t":2016.14,"v":-0.92},{"f":"C","t":2016.32,"v":-1.12},{"f":"C","t":2016.44,"v":-1.3},{"f":"C","t":2016.475,"v":-0.43},{"f":"C","t":2016.55,"v":-0.35},{"f":"C","t":2016.66,"v":-0.4},{"f":"C","t":2016.72,"v":-0.35},{"f":"C","t":2016.76,"v":-0.25},{"f":"C","t":2016.85,"v":-0.4},{"f":"C","t":2016.93,"v":-0.38},{"f":"C","t":2017.04,"v":-0.4},{"f":"C","t":2017.08,"v":-0.4},{"f":"C","t":2017.09,"v":-1.7},{"f":"C","t":2017.14,"v":-1.65},{"f":"C","t":2017.2,"v":-1.3},{"f":"C","t":2017.23,"v":-1.25},{"f":"C","t":2017.34,"v":-1.12},{"f":"C","t":2017.45,"v":-1.05},{"f":"C","t":2017.6,"v":-1.02},{"f":"C","t":2017.72,"v":-1.02},{"f":"C","t":2017.83,"v":-0.85},{"f":"C","t":2017.94,"v":-0.78},{"f":"C","t":2018.02,"v":-0.28},{"f":"C","t":2018.09,"v":-0.12},{"f":"C","t":2018.28,"v":-0.12},{"f":"C","t":2018.43,"v":-0.14},{"f":"C","t":2018.58,"v":-0.15},{"f":"C","t":2018.7,"v":-0.22},{"f":"C","t":2018.81,"v":-0.15},{"f":"C","t":2018.92,"v":0.03},{"f":"C","t":2018.97,"v":-0.9},{"f":"C","t":2019.07,"v":-0.9},{"f":"C","t":2019.18,"v":-2.2},{"f":"C","t":2019.24,"v":-0.92},{"f":"C","t":2019.33,"v":-0.92},{"f":"C","t":2019.48,"v":-0.9},{"f":"C","t":2019.64,"v":-0.88},{"f":"C","t":2019.79,"v":-0.86},{"f":"C","t":2019.94,"v":-0.86},{"f":"C","t":2020.09,"v":-0.85},{"f":"C","t":2020.16,"v":-0.87},{"f":"C","t":2020.2,"v":-0.3},{"f":"C","t":2020.25,"v":-0.7},{"f":"C","t":2020.35,"v":-0.6},{"f":"C","t":2020.45,"v":-0.55},{"f":"C","t":2020.5,"v":-0.5},{"f":"C","t":2020.61,"v":-0.45},{"f":"C","t":2020.69,"v":-0.35},{"f":"C","t":2020.8,"v":-0.3},{"f":"C","t":2020.91,"v":-0.38},{"f":"C","t":2021.03,"v":-0.38},{"f":"C","t":2021.14,"v":-0.22},{"f":"C","t":2021.25,"v":-0.1},{"f":"C","t":2021.37,"v":-0.3},{"f":"C","t":2021.48,"v":-0.28},{"f":"C","t":2021.59,"v":-0.18},{"f":"C","t":2021.7,"v":-0.12},{"f":"C","t":2021.82,"v":0.02},{"f":"C","t":2021.89,"v":0.13},{"f":"C","t":2022.04,"v":0.08},{"f":"C","t":2022.19,"v":0.02},{"f":"C","t":2022.31,"v":0.06},{"f":"C","t":2022.42,"v":0.28},{"f":"C","t":2022.53,"v":0.36},{"f":"C","t":2022.65,"v":0.5},{"f":"C","t":2022.8,"v":0.75},{"f":"C","t":2022.86,"v":0.9},{"f":"C","t":2022.88,"v":0.05},{"f":"C","t":2022.98,"v":-0.05},{"f":"C","t":2023.1,"v":-0.22},{"f":"C","t":2023.17,"v":-0.15},{"f":"C","t":2023.25,"v":-0.08},{"f":"C","t":2023.37,"v":-0.1},
{"f":"M","t":1986,"v":-1.08},{"f":"M","t":1986.12,"v":-0.82},{"f":"M","t":1986.35,"v":-0.85},{"f":"M","t":1986.57,"v":-0.76},{"f":"M","t":1986.67,"v":-0.76},{"f":"M","t":1986.71,"v":-0.18},{"f":"M","t":1986.75,"v":-0.23},{"f":"M","t":1986.8,"v":-7.29},{"f":"M","t":1986.835,"v":-4.14},{"f":"M","t":1986.95,"v":-3.74},{"f":"M","t":1987.06,"v":-3.5},{"f":"M","t":1987.21,"v":-3.5},{"f":"M","t":1987.32,"v":-3.59},{"f":"M","t":1987.44,"v":-3.59},{"f":"M","t":1987.59,"v":-3.42},{"f":"M","t":1987.66,"v":-3.42},{"f":"M","t":1987.74,"v":-3.79},{"f":"M","t":1987.79,"v":-0.2},{"f":"M","t":1987.87,"v":-0.29},{"f":"M","t":1987.96,"v":-1.23},{"f":"M","t":1988,"v":-0.2},{"f":"M","t":1988.11,"v":-0.32},{"f":"M","t":1988.21,"v":-0.44},{"f":"M","t":1988.24,"v":0},{"f":"M","t":1988.36,"v":0.09},{"f":"M","t":1988.415,"v":-0.2},{"f":"M","t":1988.53,"v":-0.29},{"f":"M","t":1988.68,"v":-0.29},{"f":"M","t":1988.78,"v":-0.38},{"f":"M","t":1988.8,"v":-2.22},{"f":"M","t":1988.9,"v":-2.13},{"f":"M","t":1989.02,"v":-1.81},{"f":"M","t":1989.13,"v":-1.75},{"f":"M","t":1989.28,"v":-1.66},{"f":"M","t":1989.43,"v":-1.58},{"f":"M","t":1989.58,"v":-1.52},{"f":"M","t":1989.66,"v":-1.28},{"f":"M","t":1989.73,"v":-0.82},{"f":"M","t":1989.79,"v":-0.35},{"f":"M","t":1989.92,"v":-0.26},{"f":"M","t":1990.03,"v":-0.12},{"f":"M","t":1990.18,"v":-0.03},{"f":"M","t":1990.41,"v":-0.02},{"f":"M","t":1990.56,"v":0.01},{"f":"M","t":1990.63,"v":0.29},{"f":"M","t":1990.75,"v":0.38},{"f":"M","t":1990.82,"v":0.47},{"f":"M","t":1990.88,"v":0.12},{"f":"M","t":1990.97,"v":0},{"f":"M","t":1991.09,"v":-0.12},{"f":"M","t":1991.24,"v":-0.18},{"f":"M","t":1991.42,"v":-0.18},{"f":"M","t":1991.575,"v":-0.12},{"f":"M","t":1991.69,"v":-0.18},{"f":"M","t":1991.8,"v":-0.24},{"f":"M","t":1991.875,"v":0.23},{"f":"M","t":1991.95,"v":0.2},{"f":"M","t":1992.03,"v":-0.01},{"f":"M","t":1992.1,"v":-0.41},{"f":"M","t":1992.25,"v":-0.47},{"f":"M","t":1992.4,"v":-0.47},{"f":"M","t":1992.63,"v":-0.53},{"f":"M","t":1992.85,"v":-0.59},{"f":"M","t":1993,"v":-0.65},{"f":"M","t":1993.08,"v":-0.88},{"f":"M","t":1993.155,"v":-0.53},{"f":"M","t":1993.23,"v":-0.82},{"f":"M","t":1993.31,"v":-0.36},{"f":"M","t":1993.46,"v":-0.41},{"f":"M","t":1993.61,"v":-0.47},{"f":"M","t":1993.76,"v":-0.36},{"f":"M","t":1993.83,"v":-0.24},{"f":"M","t":1993.98,"v":-0.3},{"f":"M","t":1994.1,"v":-0.18},{"f":"M","t":1994.21,"v":0.02},{"f":"M","t":1994.28,"v":-0.41},{"f":"M","t":1994.43,"v":-0.24},{"f":"M","t":1994.58,"v":-0.33},{"f":"M","t":1994.73,"v":-0.41},{"f":"M","t":1994.85,"v":-0.33},{"f":"M","t":1994.92,"v":-0.21},{"f":"M","t":1995,"v":-0.47},{"f":"M","t":1995.11,"v":-0.47},{"f":"M","t":1995.19,"v":-0.88},{"f":"M","t":1995.34,"v":-0.82},{"f":"M","t":1995.49,"v":-0.88},{"f":"M","t":1995.525,"v":-1.09},{"f":"M","t":1995.56,"v":-0.82},{"f":"M","t":1995.71,"v":-0.76},{"f":"M","t":1995.86,"v":-0.76},{"f":"M","t":1995.98,"v":-0.53},{"f":"M","t":1996.09,"v":-0.47},{"f":"M","t":1996.24,"v":-0.41},{"f":"M","t":1996.39,"v":-0.3},{"f":"M","t":1996.54,"v":-0.18},{"f":"M","t":1996.69,"v":-0.06},{"f":"M","t":1996.77,"v":-0.07},{"f":"M","t":1996.81,"v":-1.53},{"f":"M","t":1996.855,"v":-0.99},{"f":"M","t":1996.99,"v":-0.94},{"f":"M","t":1997.14,"v":-0.99},{"f":"M","t":1997.33,"v":-1.09},{"f":"M","t":1997.44,"v":-1.04},{"f":"M","t":1997.555,"v":-1.07},{"f":"M","t":1997.63,"v":-1.02},{"f":"M","t":1997.66,"v":-1.71},{"f":"M","t":1997.69,"v":-1.12},{"f":"M","t":1997.78,"v":-0.86},{"f":"M","t":1997.82,"v":-0.56},{"f":"M","t":1997.97,"v":-0.61},{"f":"M","t":1998.08,"v":-0.56},{"f":"M","t":1998.195,"v":-0.48},{"f":"M","t":1998.42,"v":-0.43},{"f":"M","t":1998.65,"v":-0.4},{"f":"M","t":1998.685,"v":0.21},{"f":"M","t":1998.76,"v":0.01},{"f":"M","t":1998.87,"v":0.06},{"f":"M","t":1998.985,"v":0.01},{"f":"M","t":1999.1,"v":-0.1},{"f":"M","t":1999.21,"v":-0.07},{"f":"M","t":1999.25,"v":-0.25},{"f":"M","t":1999.285,"v":-0.56},{"f":"M","t":1999.32,"v":-0.25},{"f":"M","t":1999.47,"v":-0.2},{"f":"M","t":1999.62,"v":-0.25},{"f":"M","t":1999.74,"v":-0.3},{"f":"M","t":1999.81,"v":-0.15},{"f":"M","t":1999.925,"v":-0.1},{"f":"M","t":2000,"v":0.11},{"f":"M","t":2000.11,"v":0.16},{"f":"M","t":2000.19,"v":0.11},{"f":"M","t":2000.26,"v":0.36},{"f":"M","t":2000.38,"v":0.39},{"f":"M","t":2000.53,"v":0.41},{"f":"M","t":2000.64,"v":0.47},{"f":"M","t":2000.72,"v":0.36},{"f":"M","t":2000.865,"v":0.21},{"f":"M","t":2001.02,"v":0.06},{"f":"M","t":2001.09,"v":-0.1},{"f":"M","t":2001.2,"v":0.01},{"f":"M","t":2001.28,"v":-0.15},{"f":"M","t":2001.37,"v":-0.05},{"f":"M","t":2001.47,"v":-0.15},{"f":"M","t":2001.54,"v":0.36},{"f":"M","t":2001.655,"v":0.31},{"f":"M","t":2001.77,"v":0.44},{"f":"M","t":2001.96,"v":0.47},{"f":"M","t":2002.07,"v":0.49},{"f":"M","t":2002.18,"v":0.54},{"f":"M","t":2002.33,"v":0.44},{"f":"M","t":2002.45,"v":0.36},{"f":"M","t":2002.56,"v":0.26},{"f":"M","t":2002.63,"v":0.21},{"f":"M","t":2002.71,"v":0.26},{"f":"M","t":2002.785,"v":0.16},{"f":"M","t":2002.9,"v":0.08},{"f":"M","t":2003.01,"v":0.11},{"f":"M","t":2003.12,"v":0.06},{"f":"M","t":2003.2,"v":0.01},{"f":"M","t":2003.24,"v":-0.1},{"f":"M","t":2003.39,"v":-0.1},{"f":"M","t":2003.54,"v":-0.1},{"f":"M","t":2003.69,"v":-0.07},{"f":"M","t":2003.84,"v":-0.15},{"f":"M","t":2003.99,"v":-0.12},{"f":"M","t":2004.14,"v":-0.15},{"f":"M","t":2004.29,"v":-0.12},{"f":"M","t":2004.44,"v":-0.1},{"f":"M","t":2004.59,"v":-0.07},{"f":"M","t":2004.74,"v":-0.05},{"f":"M","t":2004.89,"v":-0.05},{"f":"M","t":2005.04,"v":-0.07},{"f":"M","t":2005.19,"v":-0.1},{"f":"M","t":2005.305,"v":-0.15},{"f":"M","t":2005.38,"v":-0.1},{"f":"M","t":2005.49,"v":0.16},{"f":"M","t":2005.61,"v":0.21},{"f":"M","t":2005.79,"v":0.18},{"f":"M","t":2006.02,"v":0.18},{"f":"M","t":2006.13,"v":0.2},{"f":"M","t":2006.17,"v":-0.35},{"f":"M","t":2006.28,"v":-0.38},{"f":"M","t":2006.39,"v":-0.46},{"f":"M","t":2006.47,"v":-0.56},{"f":"M","t":2006.53,"v":-0.81},{"f":"M","t":2006.58,"v":-1.15},{"f":"M","t":2006.635,"v":-0.92},{"f":"M","t":2006.7,"v":-0.66},{"f":"M","t":2006.77,"v":-0.61},{"f":"M","t":2006.85,"v":-0.76},{"f":"M","t":2006.92,"v":-0.46},{"f":"M","t":2007.03,"v":-0.4},{"f":"M","t":2007.15,"v":-0.4},{"f":"M","t":2007.22,"v":-0.22},{"f":"M","t":2007.3,"v":0.01},{"f":"M","t":2007.45,"v":0.03},{"f":"M","t":2007.6,"v":0.06},{"f":"M","t":2007.71,"v":0.08},{"f":"M","t":2007.76,"v":-0.76},{"f":"M","t":2007.81,"v":0.36},{"f":"M","t":2007.9,"v":0.18},{"f":"M","t":2008.05,"v":0.13},{"f":"M","t":2008.2,"v":0.16},{"f":"M","t":2008.35,"v":0.13},{"f":"M","t":2008.5,"v":0.08},{"f":"M","t":2008.65,"v":0.03},{"f":"M","t":2008.77,"v":0.18},{"f":"M","t":2008.84,"v":-0.28},{"f":"M","t":2008.91,"v":0.11},{"f":"M","t":2009.03,"v":0.13},{"f":"M","t":2009.1,"v":0.01},{"f":"M","t":2009.16,"v":0.52},{"f":"M","t":2009.22,"v":0.21},{"f":"M","t":2009.25,"v":-0.35},{"f":"M","t":2009.33,"v":-0.25},{"f":"M","t":2009.4,"v":-0.38},{"f":"M","t":2009.48,"v":-0.22},{"f":"M","t":2009.63,"v":-0.25},{"f":"M","t":2009.78,"v":-0.22},{"f":"M","t":2010.01,"v":-0.2},{"f":"M","t":2010.23,"v":-0.15},{"f":"M","t":2010.38,"v":-0.15},{"f":"M","t":2010.5,"v":-0.1},{"f":"M","t":2010.57,"v":-0.15},{"f":"M","t":2010.61,"v":-1.71},{"f":"M","t":2010.67,"v":-0.86},{"f":"M","t":2010.76,"v":-0.71},{"f":"M","t":2010.87,"v":-0.56},{"f":"M","t":2010.95,"v":-0.43},{"f":"M","t":2011.06,"v":-0.4},{"f":"M","t":2011.21,"v":-0.38},{"f":"M","t":2011.36,"v":-0.38},{"f":"M","t":2011.55,"v":-0.35},{"f":"M","t":2011.59,"v":0.06},{"f":"M","t":2011.7,"v":0.06},{"f":"M","t":2011.77,"v":0.26},{"f":"M","t":2011.87,"v":0.52},{"f":"M","t":2011.91,"v":0.21},{"f":"M","t":2011.96,"v":-0.05},{"f":"M","t":2012.02,"v":0.16},{"f":"M","t":2012.11,"v":0.13},{"f":"M","t":2012.26,"v":0.06},{"f":"M","t":2012.38,"v":-0.1},{"f":"M","t":2012.49,"v":-0.22},{"f":"M","t":2012.6,"v":-0.33},{"f":"M","t":2012.68,"v":-0.48},{"f":"M","t":2012.79,"v":-0.35},{"f":"M","t":2012.9,"v":-0.3},{"f":"M","t":2012.98,"v":-0.38},{"f":"M","t":2013.09,"v":-0.63},{"f":"M","t":2013.2,"v":-0.61},{"f":"M","t":2013.32,"v":-0.56},{"f":"M","t":2013.47,"v":-0.61},{"f":"M","t":2013.62,"v":-0.56},{"f":"M","t":2013.77,"v":-0.74},{"f":"M","t":2013.84,"v":-0.61},{"f":"M","t":2013.96,"v":-0.66},{"f":"M","t":2014.03,"v":-0.4},{"f":"M","t":2014.15,"v":-0.25},{"f":"M","t":2014.33,"v":-0.2},{"f":"M","t":2014.52,"v":-0.15},{"f":"M","t":2014.63,"v":-0.1},{"f":"M","t":2014.65,"v":-0.58},{"f":"M","t":2014.68,"v":-0.15},{"f":"M","t":2014.82,"v":-0.22},{"f":"M","t":2014.93,"v":-0.12},{"f":"M","t":2015.05,"v":-0.2},{"f":"M","t":2015.2,"v":-0.17},{"f":"M","t":2015.35,"v":-0.17},{"f":"M","t":2015.5,"v":-0.22},{"f":"M","t":2015.65,"v":-0.33},{"f":"M","t":2015.8,"v":-0.35},{"f":"M","t":2015.95,"v":-0.43},{"f":"M","t":2016.06,"v":-0.51},{"f":"M","t":2016.14,"v":-0.76},{"f":"M","t":2016.32,"v":-0.84},{"f":"M","t":2016.44,"v":-0.97},{"f":"M","t":2016.475,"v":-0.05},{"f":"M","t":2016.55,"v":-0.25},{"f":"M","t":2016.66,"v":-0.25},{"f":"M","t":2016.76,"v":-0.05},{"f":"M","t":2016.85,"v":-0.3},{"f":"M","t":2016.93,"v":-0.51},{"f":"M","t":2017.04,"v":-0.53},{"f":"M","t":2017.09,"v":-2.39},{"f":"M","t":2017.14,"v":-2.04},{"f":"M","t":2017.23,"v":-1.53},{"f":"M","t":2017.34,"v":-1.3},{"f":"M","t":2017.45,"v":-1.22},{"f":"M","t":2017.6,"v":-1.2},{"f":"M","t":2017.72,"v":-1.22},{"f":"M","t":2017.83,"v":-1.02},{"f":"M","t":2017.94,"v":-0.81},{"f":"M","t":2018.02,"v":-0.3},{"f":"M","t":2018.09,"v":-0.07},{"f":"M","t":2018.28,"v":-0.07},{"f":"M","t":2018.43,"v":-0.05},{"f":"M","t":2018.58,"v":-0.1},{"f":"M","t":2018.7,"v":-0.22},{"f":"M","t":2018.81,"v":-0.12},{"f":"M","t":2018.92,"v":0.08},{"f":"M","t":2018.97,"v":-0.86},{"f":"M","t":2019.07,"v":-0.86},{"f":"M","t":2019.18,"v":-2.5},{"f":"M","t":2019.24,"v":-0.61},{"f":"M","t":2019.33,"v":-0.61},{"f":"M","t":2019.48,"v":-0.66},{"f":"M","t":2019.64,"v":-0.74},{"f":"M","t":2019.79,"v":-0.71},{"f":"M","t":2019.94,"v":-0.69},{"f":"M","t":2020.09,"v":-0.69},{"f":"M","t":2020.16,"v":-0.71},{"f":"M","t":2020.2,"v":0.72},{"f":"M","t":2020.25,"v":-0.92},{"f":"M","t":2020.35,"v":-1.07},{"f":"M","t":2020.45,"v":-1.22},{"f":"M","t":2020.5,"v":-0.76},{"f":"M","t":2020.61,"v":-0.66},{"f":"M","t":2020.69,"v":-0.46},{"f":"M","t":2020.8,"v":-0.4},{"f":"M","t":2020.91,"v":-0.3},{"f":"M","t":2021.03,"v":-0.33},{"f":"M","t":2021.14,"v":-0.25},{"f":"M","t":2021.25,"v":-0.17},{"f":"M","t":2021.37,"v":-0.35},{"f":"M","t":2021.48,"v":-0.35},{"f":"M","t":2021.59,"v":-0.25},{"f":"M","t":2021.7,"v":-0.2},{"f":"M","t":2021.82,"v":-0.05},{"f":"M","t":2021.89,"v":0.06},{"f":"M","t":2022.04,"v":0.01},{"f":"M","t":2022.19,"v":-0.05},{"f":"M","t":2022.31,"v":0.01},{"f":"M","t":2022.42,"v":0.21},{"f":"M","t":2022.53,"v":0.29},{"f":"M","t":2022.65,"v":0.39},{"f":"M","t":2022.8,"v":0.62},{"f":"M","t":2022.86,"v":0.7},{"f":"M","t":2022.88,"v":0.06},{"f":"M","t":2022.98,"v":0.01},{"f":"M","t":2023.1,"v":-0.12},{"f":"M","t":2023.17,"v":-0.07},{"f":"M","t":2023.25,"v":0.03},{"f":"M","t":2023.37,"v":0.01}
]},
"layer": [
 {"data": {"values": [{"z": 0}]}, "mark": {"type": "rule", "color": "#D9D9D9", "strokeWidth": 2},
  "encoding": {"y": {"field": "z", "type": "quantitative", "scale": {"domain": [-8, 2], "nice": false}}}},
 {"data": {"values": [{"t": 1986},{"t": 1991},{"t": 1996},{"t": 2001},{"t": 2006},{"t": 2011},{"t": 2016},{"t": 2021}]},
  "mark": {"type": "rule", "color": "#D9D9D9", "strokeWidth": 2},
  "encoding": {"x": {"field": "t", "type": "quantitative", "scale": {"domain": [1986, 2023.38], "nice": false, "zero": false}},
   "y": {"datum": 0, "type": "quantitative", "scale": {"domain": [-8, 2], "nice": false}}, "y2": {"datum": -0.11}}},
 {"encoding": {
   "x": {"field": "t", "type": "quantitative", "scale": {"domain": [1986, 2023.38], "nice": false, "zero": false},
     "axis": {"values": [1986, 1991, 1996, 2001, 2006, 2011, 2016, 2021], "format": "d", "grid": false, "domain": false, "ticks": false, "labelFontSize": 26, "labelFont": "Liberation Sans", "labelColor": "#000000", "labelPadding": 18, "labelFlush": false, "labelOverlap": false, "labelBound": false, "title": null}},
   "y": {"field": "v", "type": "quantitative", "scale": {"domain": [-8, 2], "nice": false},
     "axis": {"values": [-8, -7, -6, -5, -4, -3, -2, -1, 0, 1, 2], "labelExpr": "datum.value == 0 ? '-' : (datum.value < 0 ? '(' + format(-datum.value, '.1f') + ')' : format(datum.value, '.1f'))", "grid": false, "domain": false, "ticks": false, "labelFontSize": 26, "labelFont": "Liberation Sans", "labelColor": "#000000", "labelPadding": 24,
       "encoding": {"labels": {"dx": {"condition": [{"test": "datum.value > 0", "value": -8}, {"test": "datum.value == 0", "value": -22}], "value": 0}}},
       "labelOverlap": false, "title": null}},
   "color": {"field": "f", "type": "nominal",
     "scale": {"domain": ["A", "R", "C", "M"], "range": ["#00B0F0", "#7030A0", "#FFC000", "#000000"]},
     "legend": {"orient": "none", "legendX": 124, "legendY": 710, "direction": "horizontal", "columns": 2, "title": null, "padding": 0,
       "labelExpr": "datum.label == 'A' ? 'The Investment Company of America Fund (AIVSX)' : (datum.label == 'R' ? 'The American Mutual Fund (AMRMX)' : (datum.label == 'C' ? 'The AMCAP Fund (AMCPX)' : 'U.S. Stock Market'))",
       "labelFontSize": 27, "labelFont": "Liberation Sans", "labelColor": "#000000", "labelLimit": 1000, "labelOffset": 4,
       "symbolType": "stroke", "symbolStrokeWidth": 5, "symbolSize": 1936, "columnPadding": -13, "rowPadding": 2}}
  },
  "layer": [
   {"transform": [{"filter": "datum.f == 'A'"}], "mark": {"type": "line", "strokeWidth": 5, "strokeJoin": "round"}},
   {"transform": [{"filter": "datum.f == 'R'"}], "mark": {"type": "line", "strokeWidth": 5, "strokeJoin": "round"}},
   {"transform": [{"filter": "datum.f == 'C'"}], "mark": {"type": "line", "strokeWidth": 5, "strokeJoin": "round"}},
   {"transform": [{"filter": "datum.f == 'M'"}], "mark": {"type": "line", "strokeWidth": 5.5, "strokeJoin": "round"}}
  ]}
]
}
